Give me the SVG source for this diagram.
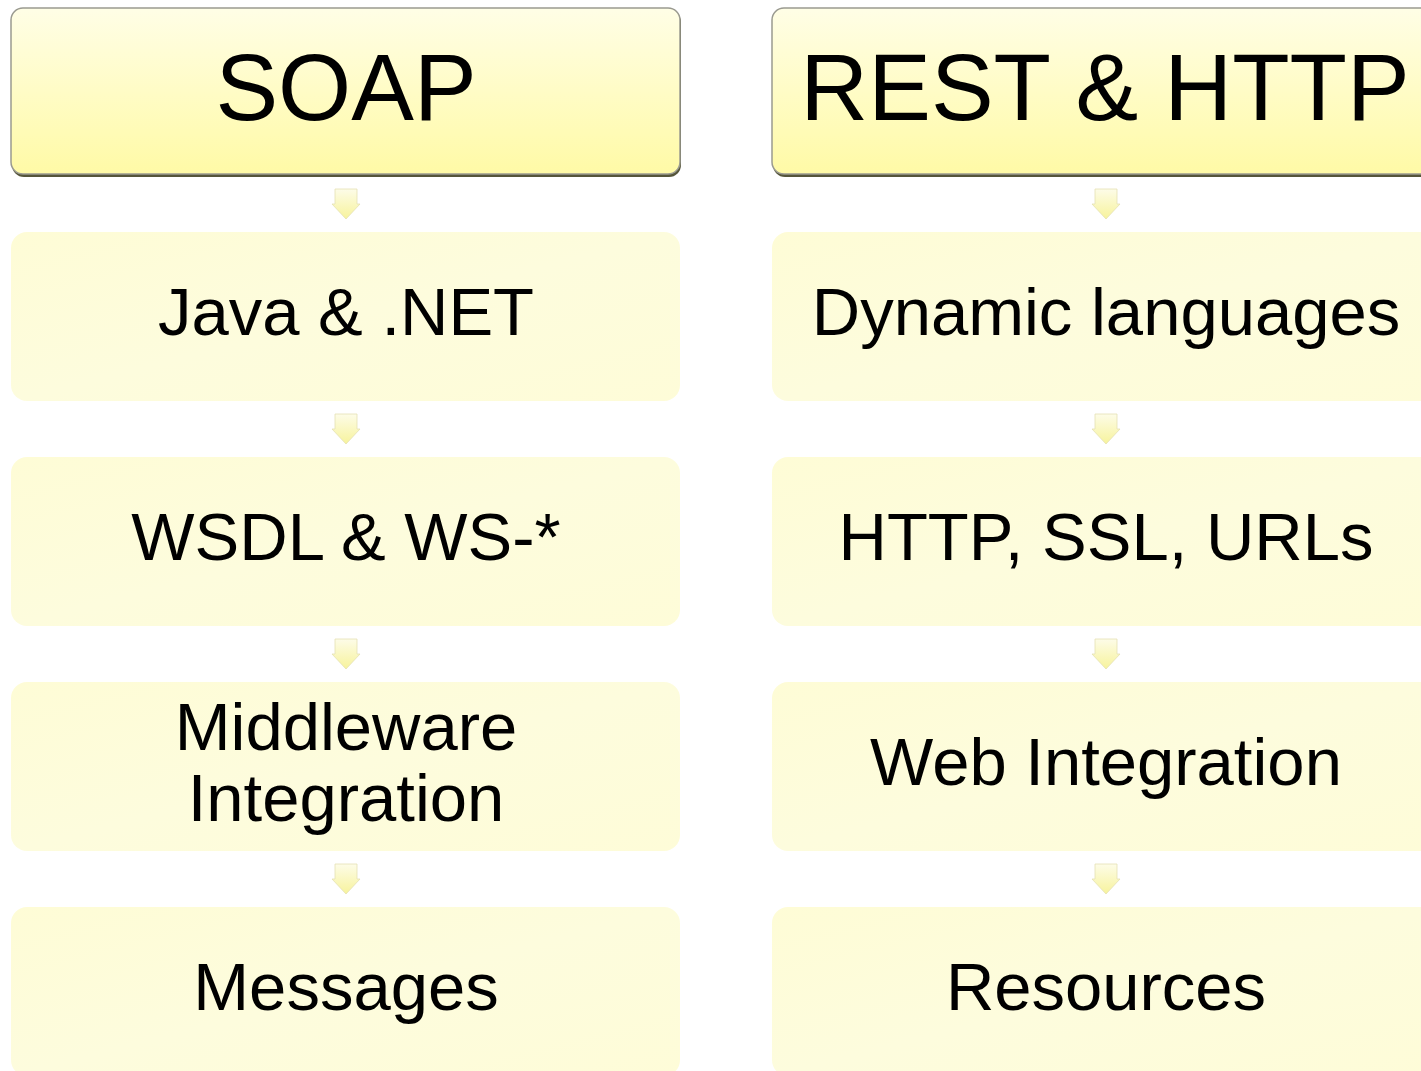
<svg xmlns="http://www.w3.org/2000/svg" width="1421" height="1071" viewBox="0 0 1421 1071">
<defs>
<linearGradient id="hdr" x1="0" y1="0" x2="0" y2="1">
<stop offset="0" stop-color="#fffee6"/>
<stop offset="1" stop-color="#fffaa6"/>
</linearGradient>
<linearGradient id="box" x1="0" y1="0" x2="1" y2="1">
<stop offset="0" stop-color="#fefcd6"/>
<stop offset="0.5" stop-color="#fdfcdd"/>
<stop offset="1" stop-color="#fefcd8"/>
</linearGradient>
<linearGradient id="arr" x1="0" y1="0" x2="0" y2="1">
<stop offset="0" stop-color="#fdfce8"/>
<stop offset="1" stop-color="#f7f39c"/>
</linearGradient>
<path id="arrow" d="M-11,0 H11 V15 H14 L0,30 L-14,15 H-11 Z"/>
</defs>
<style>
.hdr{fill:url(#hdr);stroke:#9a9a90;stroke-width:1.5}
.shadow{fill:#55553a}
.box{fill:url(#box)}
.ht{font-family:"Liberation Sans",Arial,sans-serif;font-size:94px;fill:#000;text-anchor:middle}
.bt{font-family:"Liberation Sans",Arial,sans-serif;font-size:67px;fill:#000;text-anchor:middle}
.arr{fill:url(#arr);stroke:#e4e1b4;stroke-width:0.8}
</style>
<rect width="1421" height="1071" fill="#ffffff"/>

<g id="connectors">
<use href="#arrow" class="arr" x="346" y="189"/>
<use href="#arrow" class="arr" x="346" y="414"/>
<use href="#arrow" class="arr" x="346" y="639"/>
<use href="#arrow" class="arr" x="346" y="864"/>
<use href="#arrow" class="arr" x="1106" y="189"/>
<use href="#arrow" class="arr" x="1106" y="414"/>
<use href="#arrow" class="arr" x="1106" y="639"/>
<use href="#arrow" class="arr" x="1106" y="864"/>
</g>

<g id="soap">
<rect class="shadow" x="12" y="10" width="669" height="167" rx="12"/>
<rect class="hdr" x="11" y="8" width="669" height="166" rx="12"/>
<text class="ht" x="346" y="120">SOAP</text>
</g>
<g id="rest-http">
<rect class="shadow" x="773" y="10" width="669" height="167" rx="12"/>
<rect class="hdr" x="772" y="8" width="669" height="166" rx="12"/>
<text class="ht" x="1105" y="120">REST &amp; HTTP</text>
</g>

<g id="java-net">
<rect class="box" x="11" y="232" width="669" height="169" rx="16"/>
<text class="bt" x="346" y="335">Java &amp; .NET</text>
</g>
<g id="wsdl">
<rect class="box" x="11" y="457" width="669" height="169" rx="16"/>
<text class="bt" x="346" y="560">WSDL &amp; WS-*</text>
</g>
<g id="middleware">
<rect class="box" x="11" y="682" width="669" height="169" rx="16"/>
<text class="bt" x="346" y="750">Middleware</text>
<text class="bt" x="346" y="821">Integration</text>
</g>
<g id="messages">
<rect class="box" x="11" y="907" width="669" height="169" rx="16"/>
<text class="bt" x="346" y="1010">Messages</text>
</g>

<g id="dynamic">
<rect class="box" x="772" y="232" width="669" height="169" rx="16"/>
<text class="bt" x="1106" y="335">Dynamic languages</text>
</g>
<g id="http-ssl">
<rect class="box" x="772" y="457" width="669" height="169" rx="16"/>
<text class="bt" x="1106" y="560">HTTP, SSL, URLs</text>
</g>
<g id="web-integration">
<rect class="box" x="772" y="682" width="669" height="169" rx="16"/>
<text class="bt" x="1106" y="785">Web Integration</text>
</g>
<g id="resources">
<rect class="box" x="772" y="907" width="669" height="169" rx="16"/>
<text class="bt" x="1106" y="1010">Resources</text>
</g>
</svg>
